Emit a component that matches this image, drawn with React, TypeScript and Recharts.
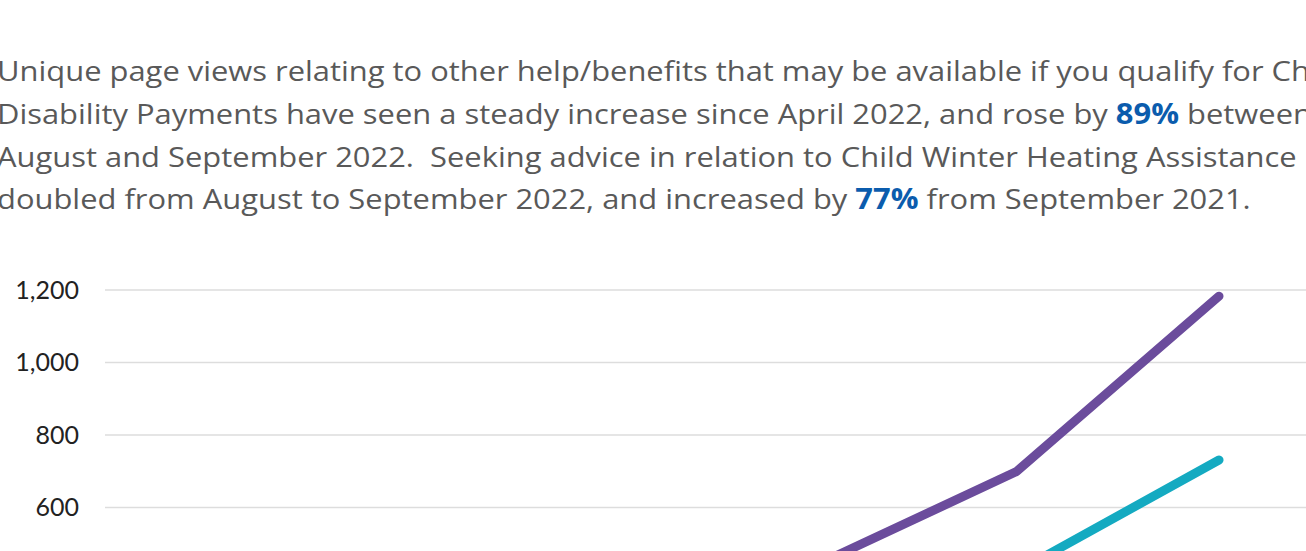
import React from "react";
import { LineChart, Line, XAxis, YAxis, CartesianGrid } from "recharts";

const months = ["Apr 2022", "May 2022", "Jun 2022", "Jul 2022", "Aug 2022", "Sep 2022"];
const otherHelpViews = [250, 300, 370, 438, 699, 1183];
const winterHeatingViews = [300, 280, 320, 350, 422, 731];
const yTicks = [0, 200, 400, 600, 800, 1000, 1200];

const line1 = "Unique page views relating to other help/benefits that may be available if you qualify for Child";
const line2a = "Disability Payments have seen a steady increase since April 2022, and rose by ";
const line2b = "89%";
const line2c = " between";
const line3 = "August and September 2022.\u00a0 Seeking advice in relation to Child Winter Heating Assistance";
const line4a = "doubled from August to September 2022, and increased by ";
const line4b = "77%";
const line4c = " from September 2021.";

const data = months.map((m, i) => ({
  month: m,
  other: otherHelpViews[i],
  heating: winterHeatingViews[i],
}));

const TEXT_GREY = "#595959";
const BLUE = "#0b5cad";
const FONT = "'Open Sans', sans-serif";
const STRETCH = 1.104;

export default function App() {
  return (
    <div
      style={{
        position: "fixed",
        left: 0,
        top: 0,
        width: 1306,
        height: 551,
        overflow: "hidden",
        background: "#fff",
      }}
    >
      <svg
        width={1306}
        height={240}
        style={{ position: "absolute", left: 0, top: 0 }}
      >
        <g
          fontFamily={FONT}
          fontSize={28}
          fill={TEXT_GREY}
          transform={`translate(-3,0) scale(${STRETCH},1)`}
        >
          <text x={0} y={81}>{line1}</text>
          <text x={0} y={124}>
            {line2a}
            <tspan fill={BLUE} fontWeight={700}>{line2b}</tspan>
            {line2c}
          </text>
          <text x={0} y={167}>{line3}</text>
          <text x={0} y={209}>
            {line4a}
            <tspan fill={BLUE} fontWeight={700}>{line4b}</tspan>
            {line4c}
          </text>
        </g>
      </svg>
      <div style={{ position: "absolute", left: 0, top: 0 }}>
        <LineChart
          width={1330}
          height={800}
          data={data}
          margin={{ top: 290, right: 10, left: 0, bottom: 35 }}
        >
          <CartesianGrid vertical={false} stroke="#dddddd" strokeWidth={1.5} />
          <XAxis
            dataKey="month"
            height={40}
            padding={{ left: 101, right: 101 }}
            axisLine={false}
            tickLine={false}
            tick={{ fontFamily: "Lato, sans-serif", fontSize: 22, fill: "#222" }}
          />
          <YAxis
            width={105}
            domain={[0, 1200]}
            ticks={yTicks}
            axisLine={false}
            tickLine={false}
            tickSize={0}
            tickMargin={26}
            tickFormatter={(v: number) => v.toLocaleString("en-GB")}
            tick={{ fontFamily: "Lato, sans-serif", fontSize: 25, fill: "#222" }}
          />
          <Line
            type="linear"
            dataKey="other"
            stroke="#6b4c9c"
            strokeWidth={9}
            strokeLinecap="round"
            strokeLinejoin="round"
            dot={false}
            activeDot={false}
            isAnimationActive={false}
          />
          <Line
            type="linear"
            dataKey="heating"
            stroke="#14aac1"
            strokeWidth={9}
            strokeLinecap="round"
            strokeLinejoin="round"
            dot={false}
            activeDot={false}
            isAnimationActive={false}
          />
        </LineChart>
      </div>
    </div>
  );
}
